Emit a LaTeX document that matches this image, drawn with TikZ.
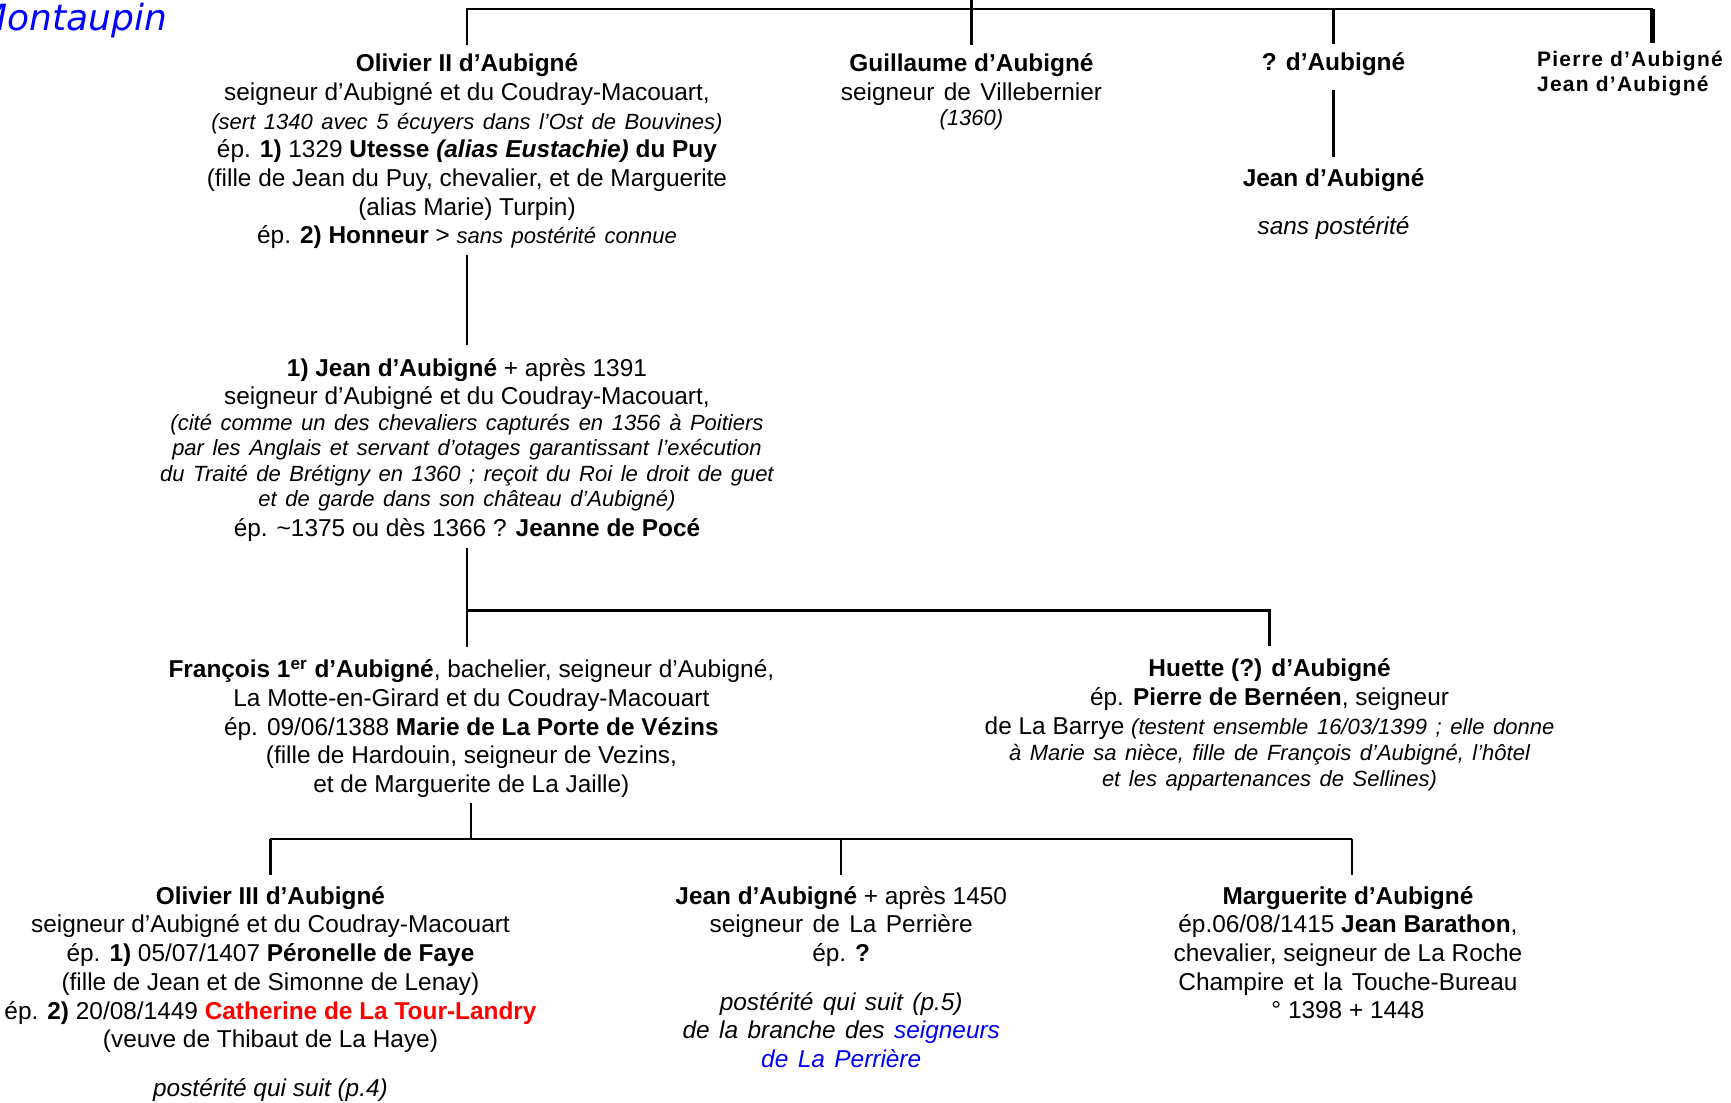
\documentclass[tikz,border=0pt]{standalone}
\usepackage{fontspec}
\setmainfont{Liberation Sans}
\newfontfamily\notefont[WordSpace=1.4]{Liberation Sans}
\newfontfamily\spacedfont[LetterSpace=6]{Liberation Sans}
\newfontfamily\placefont{DejaVu Sans}
\usepackage{tikz}
\usepackage{xcolor}
\definecolor{linkblue}{RGB}{0,0,255}
\definecolor{namered}{RGB}{255,0,0}
\newcommand{\mainsize}{\fontsize{12.2}{14.35}\selectfont}
\newcommand{\notesize}{\notefont\itshape\fontsize{11}{12.7}\selectfont}
\newcommand{\wideit}{\notefont\itshape}
\tikzset{
  person/.style = {align=center, anchor=base, inner sep=0pt, font=\mainsize},
  sideline/.style = {align=left, anchor=base west, inner sep=0pt,
    font={\spacedfont\bfseries\fontsize{10.5}{12.7}\selectfont}},
  place/.style = {anchor=base east, inner sep=0pt, text=linkblue,
    font={\placefont\itshape\fontsize{18}{22}\selectfont}},
  link/.style = {line width=1.1pt},
  heavylink/.style = {line width=2.2pt}
}

\begin{document}
\begin{tikzpicture}[x=0.552pt, y=-0.552pt]

\path[use as bounding box, fill=white] (0,0) rectangle (1568,999);

\node[place] (lieu) at (152,28) {Montaupin};

\node[person] (olivierII) at (423,221) {{\bfseries Olivier II d’Aubigné}\\
  seigneur d’Aubigné et du Coudray-Macouart,\\
  {\notesize (sert 1340 avec 5 écuyers dans l’Ost de Bouvines)}\\
  ép. {\bfseries 1)} 1329 {\bfseries Utesse {\itshape (alias Eustachie)} du Puy}\\
  (fille de Jean du Puy, chevalier, et de Marguerite\\
  (alias Marie) Turpin)\\
  ép. {\bfseries 2) Honneur} > {\notesize sans postérité connue}};
\node[person] (guillaume) at (880,114) {{\bfseries Guillaume d’Aubigné}\\
  {\notefont seigneur de Villebernier}\\[-1.6pt]
  {\notesize (1360)}};
\node[person] (qdaub) at (1208,64) {{\bfseries ? d’Aubigné}};
\node[person] (jeansp) at (1208,212) {{\bfseries Jean d’Aubigné}\\[9.4pt]
  {\itshape sans postérité}};
\node[sideline] (pierrejean) at (1392,83) {Pierre d’Aubigné\\Jean d’Aubigné};

\node[person] (jeanI) at (423,486) {{\bfseries 1) Jean d’Aubigné} + après 1391\\[-0.55pt]
  seigneur d’Aubigné et du Coudray-Macouart,\\[-1.1pt]
  {\notesize (cité comme un des chevaliers capturés en 1356 à Poitiers}\\[-1.65pt]
  {\notesize par les Anglais et servant d’otages garantissant l’exécution}\\[-1.65pt]
  {\notesize du Traité de Brétigny en 1360 ; reçoit du Roi le droit de guet}\\[-1.65pt]
  {\notesize et de garde dans son château d’Aubigné)}\\[0.55pt]
  ép. \textasciitilde1375 ou dès 1366 ? {\bfseries Jeanne de Pocé}};

\node[person] (francois) at (427,718) {{\bfseries François 1\textsuperscript{er} d’Aubigné}, bachelier, seigneur d’Aubigné,\\
  La Motte-en-Girard et du Coudray-Macouart\\
  ép. 09/06/1388 {\bfseries Marie de La Porte de Vézins}\\
  (fille de Hardouin, seigneur de Vezins,\\
  et de Marguerite de La Jaille)};
\node[person] (huette) at (1150,712) {{\bfseries Huette (?) d’Aubigné}\\
  ép. {\bfseries Pierre de Bernéen}, seigneur\\
  de La Barrye {\notesize (testent ensemble 16/03/1399 ; elle donne}\\[-1.1pt]
  {\notesize à Marie sa nièce, fille de François d’Aubigné, l’hôtel}\\[-1.65pt]
  {\notesize et les appartenances de Sellines)}};

\node[person] (olivierIII) at (245,993) {{\bfseries Olivier III d’Aubigné}\\
  seigneur d’Aubigné et du Coudray-Macouart\\
  ép. {\bfseries 1)} 05/07/1407 {\bfseries Péronelle de Faye}\\
  (fille de Jean et de Simonne de Lenay)\\
  ép. {\bfseries 2)} 20/08/1449 {\bfseries\color{namered}Catherine de La Tour-Landry}\\
  (veuve de Thibaut de La Haye)\\[9.9pt]
  {\itshape postérité qui suit (p.4)}};
\node[person] (jeanperr) at (762,967) {{\bfseries Jean d’Aubigné} + après 1450\\
  {\notefont seigneur de La Perrière}\\
  ép. {\bfseries ?}\\[9.9pt]
  {\wideit postérité qui suit (p.5)}\\
  {\wideit de la branche des \color{linkblue}seigneurs}\\
  {\wideit\color{linkblue}de La Perrière}};
\node[person] (marguerite) at (1221,923) {{\bfseries Marguerite d’Aubigné}\\
  ép.06/08/1415 {\bfseries Jean Barathon},\\
  chevalier, seigneur de La Roche\\
  {\notefont Champire et la Touche-Bureau}\\
  ° 1398 + 1448};

\coordinate (up) at (880,0);
\coordinate (barI) at (1497,8);
\coordinate (barII) at (1150,553);
\coordinate (barIIIl) at (245,760);
\coordinate (barIIIr) at (1225,760);

\draw[link, shorten >=4.4pt] (up) -- (up |- guillaume.north);
\draw[link, shorten <=4.4pt] (olivierII.north) |- (barI);
\draw[link, shorten >=4.4pt] (barI -| qdaub.north) -- (qdaub.north);
\draw[heavylink, shorten >=3.5pt] (barI) -- (barI |- pierrejean.north);
\draw[link, shorten <=7pt, shorten >=5.5pt] (qdaub.south) -- (jeansp.north);
\draw[link, shorten <=3pt, shorten >=6.5pt] (olivierII.south) -- (olivierII.south |- jeanI.north);
\draw[link, shorten <=3pt, shorten >=6pt] (jeanI.south) -- (jeanI.south |- francois.north);
\draw[link, shorten >=6pt] (jeanI.south |- barII) -- (barII) -- (huette.north);
\draw[link, shorten <=2.5pt] (francois.south) -- (francois.south |- barIIIl);
\draw[link] (barIIIl) -- (barIIIr);
\draw[link, shorten >=5.5pt] (barIIIl) -- (olivierIII.north);
\draw[link, shorten >=5.5pt] (barIIIl -| jeanperr.north) -- (jeanperr.north);
\draw[link, shorten >=5.5pt] (barIIIr) -- (barIIIr |- marguerite.north);

\end{tikzpicture}
\end{document}
